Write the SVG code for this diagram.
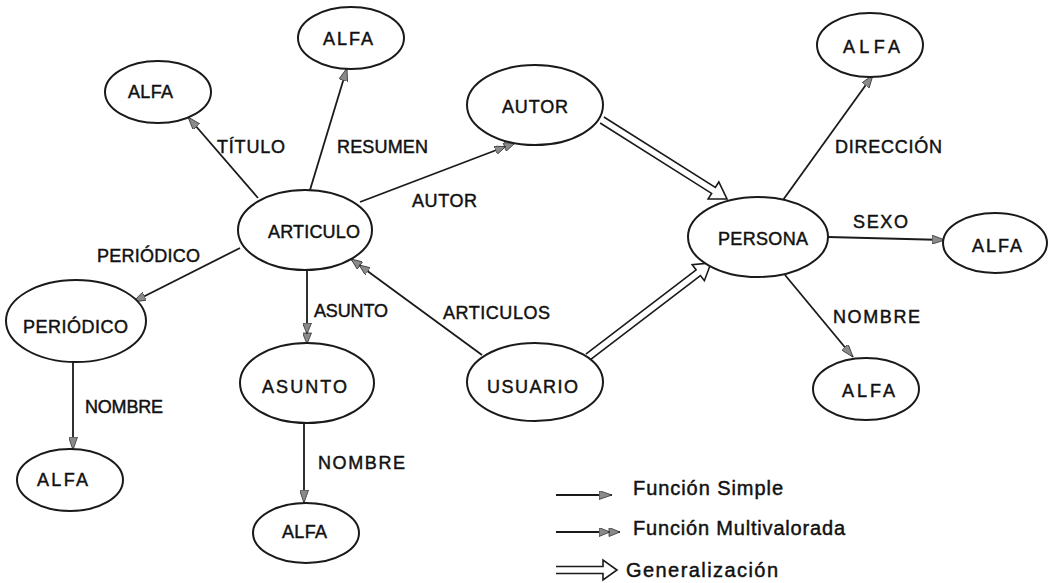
<svg xmlns="http://www.w3.org/2000/svg" width="1056" height="583" viewBox="0 0 1056 583">
<style>
.n{fill:#fff;stroke:#1a1a1a;stroke-width:2}
.e{fill:none;stroke:#1a1a1a;stroke-width:1.8}
.g{fill:#fff;stroke:#1a1a1a;stroke-width:1.6;stroke-linejoin:miter}
text{font-family:"Liberation Sans",Arial,sans-serif;font-size:18px;fill:#111;stroke:#111;stroke-width:0.45}
.lg{font-size:20px}
</style>
<defs>
<marker id="simple" viewBox="0 0 13 9" refX="13" refY="4.5" markerWidth="13" markerHeight="9" orient="auto" markerUnits="userSpaceOnUse"><path d="M0,0 L13,4.5 L0,9 z" fill="#8a8a8a" stroke="#333" stroke-width="0.8"/></marker>
<marker id="multi" viewBox="0 0 21 9" refX="21" refY="4.5" markerWidth="21" markerHeight="9" orient="auto" markerUnits="userSpaceOnUse"><path d="M0,0 L11,4.5 L0,9 z M10,0 L21,4.5 L10,9 z" fill="#8a8a8a" stroke="#333" stroke-width="0.8"/></marker>
</defs>
<rect width="1056" height="583" fill="#fff"/>
<g id="connectors">
<line class="e" x1="258" y1="198" x2="188" y2="117" marker-end="url(#simple)"/>
<line class="e" x1="310" y1="190" x2="347" y2="68" marker-end="url(#simple)"/>
<line class="e" x1="360" y1="202" x2="515" y2="143" marker-end="url(#multi)"/>
<line class="e" x1="240" y1="248" x2="133" y2="302" marker-end="url(#simple)"/>
<line class="e" x1="307" y1="270" x2="307" y2="344" marker-end="url(#multi)"/>
<line class="e" x1="482" y1="355" x2="351" y2="259" marker-end="url(#multi)"/>
<line class="e" x1="73" y1="362" x2="73" y2="450" marker-end="url(#simple)"/>
<line class="e" x1="304" y1="423" x2="304" y2="503" marker-end="url(#simple)"/>
<line class="e" x1="783" y1="200" x2="873" y2="75" marker-end="url(#simple)"/>
<line class="e" x1="828" y1="237" x2="945" y2="240" marker-end="url(#simple)"/>
<line class="e" x1="785" y1="275" x2="853" y2="357" marker-end="url(#simple)"/>
<path class="g" d="M600.13,122.96 L711.61,193.42 L708.14,198.91 L727,199 L718.82,182.01 L715.35,187.5 L603.87,117.04"/>
<path class="g" d="M590.13,359.78 L700.42,275.5 L704.36,280.67 L711,263 L692.22,264.77 L696.16,269.94 L585.87,354.22"/>
</g>
<g id="n-alfa-titulo"><ellipse class="n" cx="158" cy="92" rx="53" ry="31"/><text x="128" y="98" textLength="45">ALFA</text></g>
<g id="n-alfa-resumen"><ellipse class="n" cx="351" cy="38" rx="53" ry="31"/><text x="323" y="45" textLength="50">ALFA</text></g>
<g id="n-autor"><ellipse class="n" cx="535" cy="105" rx="68" ry="40"/><text x="502" y="113" textLength="66">AUTOR</text></g>
<g id="n-articulo"><ellipse class="n" cx="305" cy="230" rx="67" ry="40"/><text x="268" y="238" textLength="92">ARTICULO</text></g>
<g id="n-periodico"><ellipse class="n" cx="76" cy="321" rx="70" ry="41"/><text x="23" y="333" textLength="105">PERIÓDICO</text></g>
<g id="n-asunto"><ellipse class="n" cx="307" cy="383" rx="67" ry="40"/><text x="262" y="393" textLength="85">ASUNTO</text></g>
<g id="n-alfa-nombre-periodico"><ellipse class="n" cx="70" cy="480" rx="53" ry="31"/><text x="37" y="486" textLength="51">ALFA</text></g>
<g id="n-alfa-nombre-asunto"><ellipse class="n" cx="306" cy="533" rx="53" ry="30"/><text x="282" y="538" textLength="45">ALFA</text></g>
<g id="n-usuario"><ellipse class="n" cx="535" cy="382" rx="68" ry="39"/><text x="487" y="393" textLength="91">USUARIO</text></g>
<g id="n-persona"><ellipse class="n" cx="758" cy="237" rx="70" ry="40"/><text x="718" y="245" textLength="90">PERSONA</text></g>
<g id="n-alfa-direccion"><ellipse class="n" cx="870" cy="45" rx="53" ry="32"/><text x="843" y="53" textLength="57">ALFA</text></g>
<g id="n-alfa-sexo"><ellipse class="n" cx="995" cy="243" rx="52" ry="30"/><text x="972" y="252" textLength="50">ALFA</text></g>
<g id="n-alfa-nombre-persona"><ellipse class="n" cx="866" cy="389" rx="53" ry="31"/><text x="842" y="397" textLength="53">ALFA</text></g>
<g id="edge-labels">
<text x="217" y="153" textLength="68">TÍTULO</text>
<text x="337" y="153" textLength="91">RESUMEN</text>
<text x="412" y="207" textLength="65">AUTOR</text>
<text x="97" y="262" textLength="103">PERIÓDICO</text>
<text x="314" y="317" textLength="74">ASUNTO</text>
<text x="443" y="319" textLength="107">ARTICULOS</text>
<text x="85" y="413" textLength="78">NOMBRE</text>
<text x="318" y="469" textLength="87">NOMBRE</text>
<text x="835" y="153" textLength="107">DIRECCIÓN</text>
<text x="853" y="228" textLength="55">SEXO</text>
<text x="833" y="323" textLength="87">NOMBRE</text>
</g>
<g id="legend">
<line class="e" x1="556" y1="495" x2="612" y2="495" marker-end="url(#simple)"/>
<line class="e" x1="556" y1="532" x2="620" y2="532" marker-end="url(#multi)"/>
<path class="g" d="M556,566.5 L603,566.5 L603,560 L617,570 L603,580 L603,573.5 L556,573.5"/>
<text class="lg" x="633" y="495" textLength="150">Función Simple</text>
<text class="lg" x="633" y="535" textLength="212">Función Multivalorada</text>
<text class="lg" x="626" y="577" textLength="152">Generalización</text>
</g>
</svg>
